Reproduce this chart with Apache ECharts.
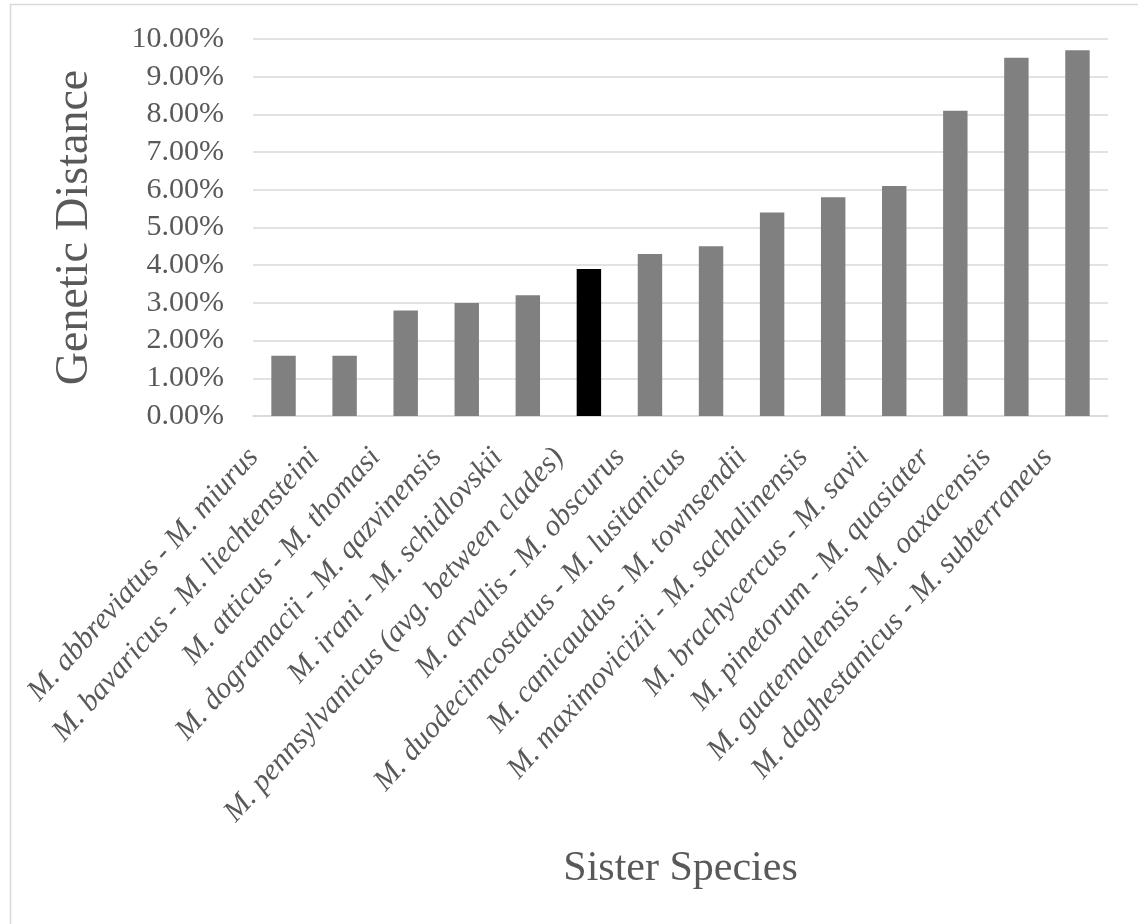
<!DOCTYPE html>
<html>
<head>
<meta charset="utf-8">
<script src="https://cdn.jsdelivr.net/npm/echarts@6/dist/echarts.min.js"></script>
<style>
html,body{margin:0;padding:0;background:#fff;}
#chart{width:1138px;height:924px;}
</style>
</head>
<body>
<div id="chart"></div>
<script>
const categories = [
  "M. abbreviatus - M. miurus",
  "M. bavaricus - M. liechtensteini",
  "M. atticus - M. thomasi",
  "M. dogramacii - M. qazvinensis",
  "M. irani - M. schidlovskii",
  "M. pennsylvanicus (avg. between clades)",
  "M. arvalis - M. obscurus",
  "M. duodecimcostatus - M. lusitanicus",
  "M. canicaudus - M. townsendii",
  "M. maximovicizii - M. sachalinensis",
  "M. brachycercus - M. savii",
  "M. pinetorum - M. quasiater",
  "M. guatemalensis - M. oaxacensis",
  "M. daghestanicus - M. subterraneus"
];
const distances = [1.6, 1.6, 2.8, 3.0, 3.2, 3.9, 4.3, 4.5, 5.4, 5.8, 6.1, 8.1, 9.5, 9.7];
const highlightIndex = 5;
const yTicks = { min: 0, max: 10, interval: 1 };

const chart = echarts.init(document.getElementById('chart'));
const FONT = '"Liberation Serif", "Times New Roman", serif';
chart.setOption({
  animation: false,
  backgroundColor: '#ffffff',
  graphic: [{
    type: 'rect',
    shape: { x: 10.5, y: 4.5, width: 1200, height: 1000 },
    style: { fill: 'none', stroke: '#d9d9d9', lineWidth: 1.5 },
    silent: true
  }],
  grid: { left: 253, right: 30, top: 39, bottom: 508, containLabel: false },
  xAxis: {
    type: 'category',
    data: categories,
    axisLine: { show: true, lineStyle: { color: '#d9d9d9', width: 1.5 } },
    axisTick: { show: false },
    axisLabel: {
      interval: 0,
      rotate: 48,
      margin: 3,
      padding: [0, 45, 0, 0],
      fontFamily: FONT,
      fontStyle: 'italic',
      fontSize: 30,
      color: '#595959'
    },
    name: 'Sister Species',
    nameLocation: 'middle',
    nameGap: 432,
    nameTextStyle: { fontFamily: FONT, fontSize: 42, color: '#595959' }
  },
  yAxis: {
    type: 'value',
    min: yTicks.min,
    max: yTicks.max,
    interval: yTicks.interval,
    axisLine: { show: false },
    axisTick: { show: false },
    splitLine: { lineStyle: { color: '#d9d9d9', width: 1.5 } },
    axisLabel: {
      margin: 29,
      fontFamily: FONT,
      fontSize: 30,
      color: '#595959',
      formatter: v => v.toFixed(2) + '%'
    },
    name: 'Genetic Distance',
    nameLocation: 'middle',
    nameGap: 155,
    nameTextStyle: { fontFamily: FONT, fontSize: 46, color: '#595959' }
  },
  series: [{
    type: 'bar',
    barWidth: '40%',
    data: distances.map((v, i) => ({
      value: v,
      itemStyle: { color: i === highlightIndex ? '#000000' : '#808080' }
    }))
  }]
});
</script>
</body>
</html>
